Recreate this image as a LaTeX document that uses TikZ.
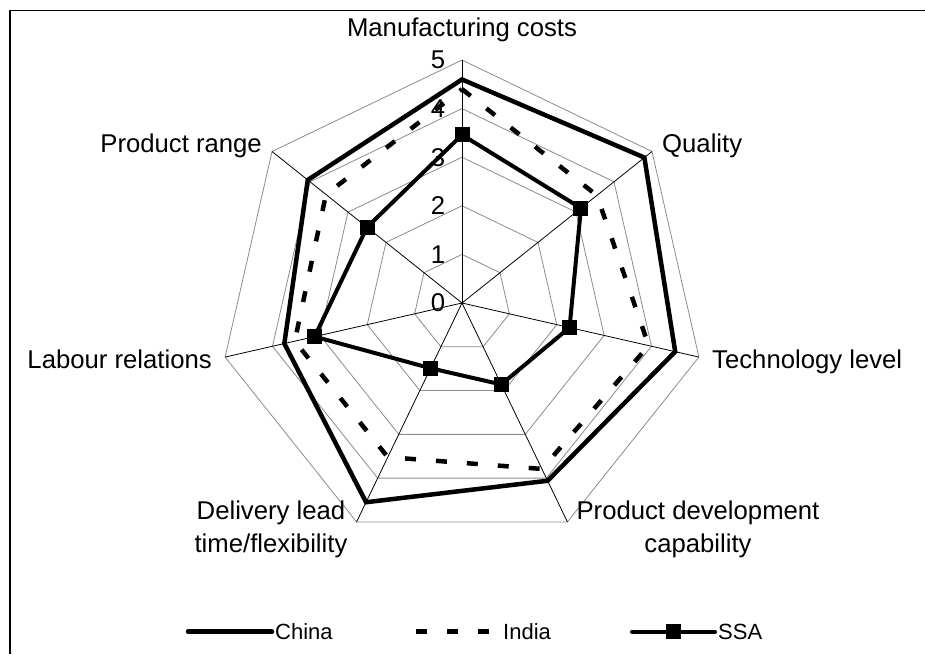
\documentclass[tikz,border=0pt]{standalone}
\usepackage{fontspec}
\setmainfont{Liberation Sans}
\definecolor{ringgray}{RGB}{140,140,140}
\begin{document}
\begin{tikzpicture}[x=1pt,y=1pt,
  lbl/.style={font=\fontsize{25.7}{33}\selectfont, inner sep=0pt, align=center},
  tick/.style={font=\fontsize{25.7}{30}\selectfont, inner sep=0pt},
  leg/.style={font=\fontsize{22}{26}\selectfont, inner sep=0pt, anchor=base west},
  ring/.style={draw=ringgray, line width=0.8pt},
  spoke/.style={draw=black, line width=0.8pt},
  china/.style={draw=black, line width=4.5pt, line join=miter},
  india/.style={draw=black, line width=4.5pt, dash pattern=on 11pt off 20pt},
  ssa/.style={draw=black, line width=4pt},
  mk/.style={fill=black, minimum size=15pt, inner sep=0pt, draw=none, rectangle},
  frameline/.style={draw=black, line width=1.3pt}
]
\useasboundingbox (0,0) rectangle (925,654);
\fill[white] (0,0) rectangle (925,654);
\coordinate (f1) at (10,0);
\coordinate (f2) at (10,643.5);
\coordinate (f3) at (925,643.5);
\draw[frameline] (f1) -- (f2) -- (f3);

\coordinate (O) at (462,351);
\def\u{48.6}

% rings
\foreach \k in {1,...,5}{
  \draw[ring] ([shift={(90:\k*\u)}]O)
    \foreach \i in {1,...,6}{ -- ([shift={(90-\i*51.4286:\k*\u)}]O) } -- cycle;
}
% spokes
\foreach \i in {0,...,6}{
  \coordinate (ax\i) at ([shift={(90-\i*51.4286:5*\u)}]O);
  \draw[spoke] (O) -- (ax\i);
}

% data
\foreach \v [count=\i from 0] in {4.6,4.8,4.5,4.06,4.55,3.75,4.06}{
  \coordinate (ch\i) at ([shift={(90-\i*51.4286:\v*\u)}]O);
}
\foreach \v [count=\i from 0] in {4.4,3.55,3.94,3.79,3.52,3.53,3.58}{
  \coordinate (in\i) at ([shift={(90-\i*51.4286:\v*\u)}]O);
}
\foreach \v [count=\i from 0] in {3.46,3.13,2.27,1.86,1.49,3.11,2.5}{
  \coordinate (ss\i) at ([shift={(90-\i*51.4286:\v*\u)}]O);
}

\draw[china] (ch0) -- (ch1) -- (ch2) -- (ch3) -- (ch4) -- (ch5) -- (ch6) -- cycle;
\draw[india] (in0) -- (in1) -- (in2) -- (in3) -- (in4) -- (in5) -- (in6) -- cycle;
\draw[ssa] (ss0) -- (ss1) -- (ss2) -- (ss3) -- (ss4) -- (ss5) -- (ss6) -- cycle;
\foreach \i in {0,...,6}{ \node[mk] (m\i) at (ss\i) {}; }

% tick labels
\foreach \k in {0,...,5}{ \node[tick] (t\k) at (438,351+\k*\u) {\k}; }

% axis labels
\node[lbl, anchor=base] (lmc) at (462,617) {Manufacturing costs};
\node[lbl, anchor=base west] (lq) at (662,501) {Quality};
\node[lbl, anchor=base west] (lt) at (712,286) {Technology level};
\node[lbl, anchor=north] (lpd) at (698,153) {Product development\\capability};
\node[lbl, anchor=north] (ld) at (271,153) {Delivery lead\\time/flexibility};
\node[lbl, anchor=base east] (ll) at (212,286) {Labour relations};
\node[lbl, anchor=base east] (lpr) at (262,501) {Product range};

% legend
\node[leg] (gc) at (275,15) {China};
\node[leg] (gi) at (503,15) {India};
\node[leg] (gs) at (718,15) {SSA};
\coordinate (c1) at (188,22.3); \coordinate (c2) at (272,22.3);
\coordinate (i1) at (416,22.3); \coordinate (i2) at (490,22.3);
\coordinate (s1) at (632,22.3); \coordinate (s2) at (715,22.3);
\draw[china, line cap=round] (c1) -- (c2);
\draw[india] (i1) -- (i2);
\draw[ssa, line cap=round] (s1) -- (s2);
\node[mk] (gm) at (673,22.3) {};
\end{tikzpicture}
\end{document}
